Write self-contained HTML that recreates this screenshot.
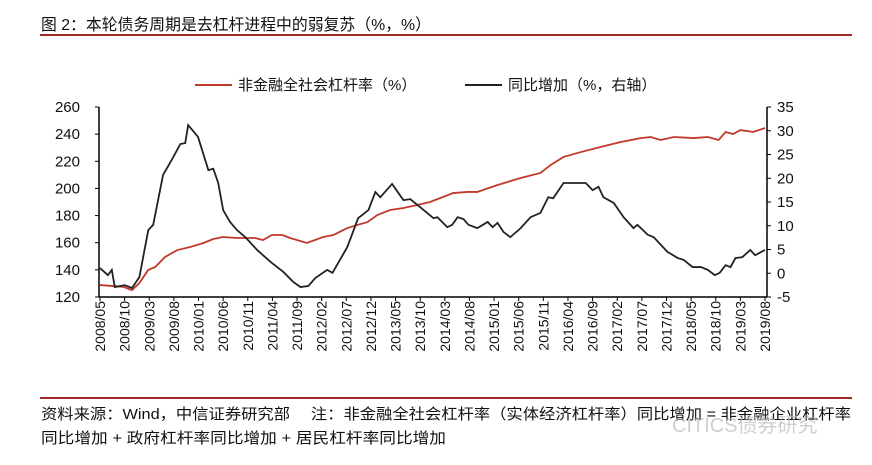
<!DOCTYPE html>
<html><head><meta charset="utf-8">
<style>
body{margin:0;background:#fff;width:872px;height:460px;overflow:hidden;font-family:"Liberation Sans","Noto Sans CJK SC",sans-serif;}
</style></head>
<body>
<svg width="872" height="460" xmlns="http://www.w3.org/2000/svg" style="font-family:'Liberation Sans','Noto Sans CJK SC',sans-serif">
<text x="41" y="30" font-size="16" fill="#111" textLength="390" lengthAdjust="spacingAndGlyphs">图 2：本轮债务周期是去杠杆进程中的弱复苏（%，%）</text>
<line x1="40" y1="35" x2="852" y2="35" stroke="#9b2b22" stroke-width="2"/>
<g>
<line x1="195" y1="85" x2="232" y2="85" stroke="#c0392b" stroke-width="2"/>
<text x="238" y="90" font-size="15" fill="#111">非金融全社会杠杆率（%）</text>
<line x1="465" y1="85" x2="502" y2="85" stroke="#222" stroke-width="2"/>
<text x="508" y="90" font-size="15" fill="#111">同比增加（%，右轴）</text>
</g>
<g id="axes"></g>
<g id="series"></g>
<line x1="40" y1="398" x2="852" y2="398" stroke="#9b2b22" stroke-width="2"/>
<text x="41" y="419" font-size="15" fill="#111" textLength="810" lengthAdjust="spacingAndGlyphs">资料来源：Wind，中信证券研究部　 注：非金融全社会杠杆率（实体经济杠杆率）同比增加 = 非金融企业杠杆率</text>
<text x="41" y="443" font-size="15" fill="#111" textLength="405" lengthAdjust="spacingAndGlyphs">同比增加 + 政府杠杆率同比增加 + 居民杠杆率同比增加</text>
<text x="672" y="432" font-size="20" fill="#bbb" opacity="0.7">CITICS债券研究</text>
</svg>
<script>
const xLabels=["2008/05","2008/10","2009/03","2009/08","2010/01","2010/06","2010/11","2011/04","2011/09","2012/02","2012/07","2012/12","2013/05","2013/10","2014/03","2014/08","2015/01","2015/06","2015/11","2016/04","2016/09","2017/02","2017/07","2017/12","2018/05","2018/10","2019/03","2019/08"];
const leftTicks=[120,140,160,180,200,220,240,260];
const rightTicks=[-5,0,5,10,15,20,25,30,35];
const levMonths=[0,4.7,6.5,8,9.8,11.2,13.2,15.7,18.3,21,23,25,27.8,29.9,31.5,33.1,34.9,37,38.6,42,45.3,47.4,50.2,52.2,54.3,56.3,58.9,61.6,64.4,67,71.7,74.6,76.6,80.7,85.4,89.4,91.5,94.1,97.6,101.6,105.7,109.8,111.8,113.8,116.5,120.5,123.4,125.6,127,128.5,130,132.6,135];
const levValues=[128.8,127.5,125.1,130.3,140,142,149.5,154.6,156.8,159.8,162.7,164.2,163.5,163.5,163.5,162,165.7,165.7,163.5,159.8,164.2,165.7,170.8,173,175.2,180.4,184.1,185.6,187.8,190,196.6,197.4,197.4,202.5,207.7,211.4,217.3,223.2,226.8,230.5,234.2,237.1,237.9,235.7,237.9,237.1,237.9,235.7,241.6,240.1,243,241.6,244.5];
const yoyMonths=[0,1.6,2.4,3,5,6.5,8,9.8,10.8,12.8,14.8,16.3,17.3,17.9,19.9,22,23,24,25,26.4,27.8,29.5,31.9,34.6,37.2,39.2,40.7,42.3,43.7,46.1,47.2,50.2,52.4,54.5,55.9,56.9,59.3,61.6,63,65,67.7,68.5,70.5,71.5,72.6,73.8,74.8,76.6,78.7,79.7,80.7,81.9,83.3,85.4,87.4,89.4,91,92,94.1,96.1,98.6,100,101.2,102.2,104.3,106.3,108.3,109.1,111.2,112.4,115.2,117.3,118.5,120.3,122,123.4,124.8,125.8,127,128,129,130.4,132,133,135];
const yoyValues=[1.1,-0.4,0.7,-2.9,-2.5,-3.1,-0.8,9.1,10.2,20.7,24.3,27.2,27.4,31.2,28.7,21.7,22,19,13.3,10.8,9.1,7.6,4.9,2.4,0.3,-1.8,-2.9,-2.7,-1,0.7,0.1,5.5,11.6,13.3,17.1,16,18.8,15.4,15.6,13.9,11.6,11.8,9.7,10.2,11.8,11.4,10.2,9.5,10.8,9.7,10.6,8.7,7.6,9.5,11.8,12.7,16,15.8,19,19,19,17.5,18.2,16,14.8,11.8,9.5,10.2,8.1,7.6,4.5,3.2,2.8,1.3,1.3,0.7,-0.4,0.1,1.7,1.3,3.2,3.4,4.9,3.8,4.9];

const NS="http://www.w3.org/2000/svg";
const X0=100,X1=765,YT=107,YB=297;
const xS=m=>X0+m*(X1-X0)/135;
const yL=v=>YB-(v-120)/(260-120)*(YB-YT);
const yR=v=>YB-(v+5)/40*(YB-YT);
function mk(tag,attrs,parent){const e=document.createElementNS(NS,tag);for(const k in attrs)e.setAttribute(k,attrs[k]);parent.appendChild(e);return e;}
const ax=document.getElementById('axes'), se=document.getElementById('series');
let e;
e=mk('line',{x1:X0-1,y1:YT,x2:X0-1,y2:YB,stroke:'#000','stroke-width':1.5},ax);


e=mk('line',{x1:X1+2,y1:YT,x2:X1+2,y2:YB,stroke:'#000','stroke-width':1.5},ax);


e=mk('line',{x1:X0-1,y1:YB,x2:X1+2,y2:YB,stroke:'#000','stroke-width':1.5},ax);


leftTicks.forEach(v=>{
  mk('line',{x1:X0-5,y1:yL(v),x2:X0-1,y2:yL(v),stroke:'#000'},ax);
  const t=mk('text',{x:X0-20,y:yL(v)+5,'font-size':15,'text-anchor':'end',fill:'#111'},ax);
  t.textContent=v;
  
  
});
rightTicks.forEach(v=>{
  mk('line',{x1:X1+2,y1:yR(v),x2:X1+6,y2:yR(v),stroke:'#000'},ax);
  const t=mk('text',{x:X1+12,y:yR(v)+5,'font-size':15,fill:'#111'},ax);
  t.textContent=v;
  
  
});
xLabels.forEach((s,i)=>{
  const x=xS(i*5);
  mk('line',{x1:x,y1:YB,x2:x,y2:YB+4,stroke:'#000'},ax);
  const t=mk('text',{x:x+5,y:YB+4,'font-size':14,'text-anchor':'end',fill:'#111',transform:`rotate(-90 ${x+5} ${YB+4})`},ax);
  t.textContent=s;
  
  
});
const lev=mk('polyline',{points:levMonths.map((m,i)=>xS(m)+','+yL(levValues[i])).join(' '),fill:'none',stroke:'#c0392b','stroke-width':1.8},se);


const yoy=mk('polyline',{points:yoyMonths.map((m,i)=>xS(m)+','+yR(yoyValues[i])).join(' '),fill:'none',stroke:'#222','stroke-width':1.8},se);


</script>
</body></html>
